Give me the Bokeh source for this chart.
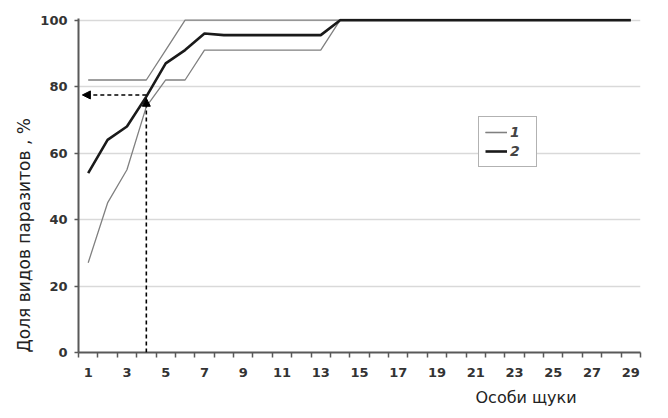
from bokeh.plotting import figure
from bokeh.models import (FixedTicker, Range1d, Legend, LegendItem, Arrow,
                          NormalHead, Title)
from bokeh.embed import file_html
from bokeh.resources import INLINE

# ---- data ----
x = list(range(1, 30))
upper = [82, 82, 82, 82, 91] + [100] * 24
lower = [27, 45, 55, 74, 82, 82] + [91] * 7 + [100] * 16
mean = [54, 64, 68, 77, 87, 91, 96] + [95.5] * 6 + [100] * 16

y_ticks = [0, 20, 40, 60, 80, 100]
x_ticks = list(range(1, 30, 2))
x_minor = [i + 0.5 for i in range(0, 30)]
marker_x = 4
marker_y = 77.5

y_label = "Доля видов паразитов , %"
x_label = "Особи щуки"
legend_labels = ["1", "2"]

# ---- figure ----
p = figure(width=660, height=414, x_range=Range1d(0.5, 29.5),
           y_range=Range1d(0, 100.5), output_backend="svg",
           toolbar_location=None, min_border_left=78, min_border_right=20,
           min_border_top=18, min_border_bottom=62)
p.outline_line_color = None
p.background_fill_color = "white"
p.border_fill_color = "white"

p.xgrid.grid_line_color = None
p.ygrid.grid_line_color = "#d9d9d9"
p.ygrid.grid_line_width = 1.5

axis_color = "#595959"
for ax in (p.xaxis, p.yaxis):
    ax.axis_line_color = axis_color
    ax.axis_line_width = 2
    ax.major_label_text_font = "DejaVu Sans"
    ax.major_label_text_font_style = "bold"
    ax.major_label_text_font_size = "13px"
    ax.major_label_text_color = "#333333"

p.xaxis.ticker = FixedTicker(ticks=x_ticks, minor_ticks=x_minor)
p.xaxis.major_tick_out = 0
p.xaxis.major_tick_in = 0
p.xaxis.minor_tick_out = 5
p.xaxis.minor_tick_in = 0
p.xaxis.minor_tick_line_color = axis_color
p.xaxis.minor_tick_line_width = 1.5
p.xaxis.major_label_standoff = 10

p.yaxis.ticker = FixedTicker(ticks=y_ticks)
p.yaxis.major_tick_out = 4
p.yaxis.major_tick_in = 0
p.yaxis.major_tick_line_color = axis_color
p.yaxis.major_tick_line_width = 1.5
p.yaxis.minor_tick_line_color = None
p.yaxis.major_label_standoff = 7

# ---- lines ----
r_up = p.line(x, upper, line_color="#808080", line_width=1.3)
r_lo = p.line(x, lower, line_color="#808080", line_width=1.3)
r_mean = p.line(x, mean, line_color="#1a1a1a", line_width=2.6)

# ---- dashed arrows ----
p.add_layout(Arrow(end=NormalHead(size=8, fill_color="black", line_color="black"),
                   x_start=marker_x, y_start=marker_y, x_end=0.7, y_end=marker_y,
                   line_dash="4 3", line_width=1.6, line_color="black"))
p.add_layout(Arrow(end=NormalHead(size=8, fill_color="black", line_color="black"),
                   x_start=marker_x, y_start=0, x_end=marker_x, y_end=marker_y - 1,
                   line_dash="4 3", line_width=1.6, line_color="black"))

# ---- legend ----
legend = Legend(items=[LegendItem(label=legend_labels[0], renderers=[r_up, r_lo]),
                       LegendItem(label=legend_labels[1], renderers=[r_mean])],
                location=(400, 185))
legend.border_line_color = "#666666"
legend.border_line_width = 1.5
legend.background_fill_color = "white"
legend.background_fill_alpha = 1
legend.label_text_font = "DejaVu Sans"
legend.label_text_font_style = "bold italic"
legend.label_text_font_size = "14px"
legend.glyph_width = 22
legend.glyph_height = 18
legend.spacing = 1
legend.padding = 6
legend.margin = 0
legend.label_standoff = 3
p.add_layout(legend)

# ---- axis titles ----
p.add_layout(Title(text=y_label, align="left", offset=0, standoff=8,
                   text_font="DejaVu Sans", text_font_size="17px",
                   text_font_style="normal", text_color="#222222"), "left")
p.add_layout(Title(text=x_label, align="left", offset=397, standoff=12,
                   text_font="DejaVu Sans", text_font_size="16px",
                   text_font_style="normal", text_color="#222222"), "below")

open("out.html", "w").write(file_html(p, INLINE))
